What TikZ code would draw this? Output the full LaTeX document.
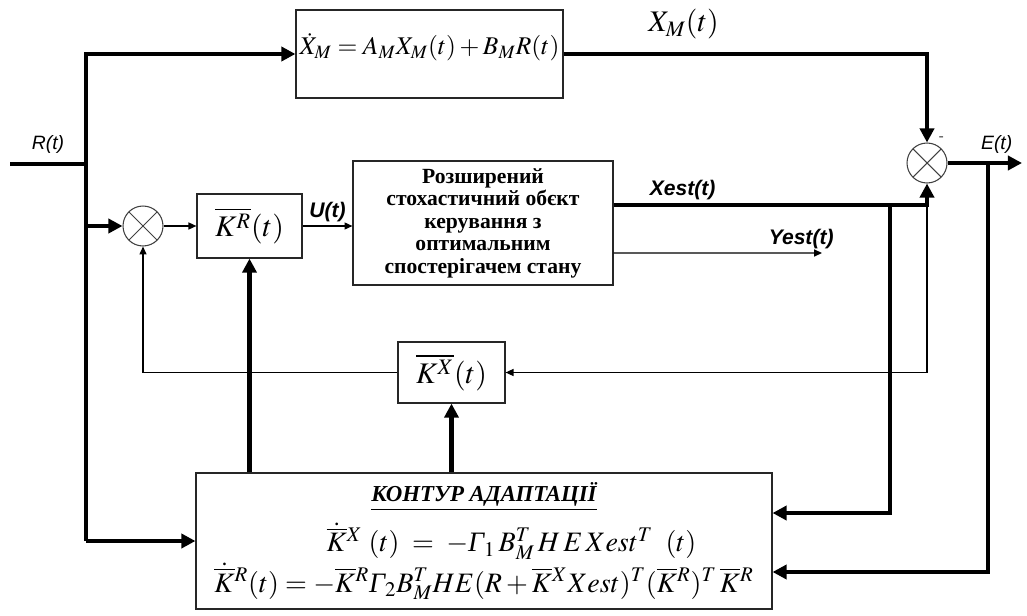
\documentclass[tikz,border=0pt]{standalone}
\usepackage{mathptmx}
\usepackage{fontspec}
\setmainfont{Liberation Serif}
\setsansfont{Liberation Sans}
\usetikzlibrary{arrows.meta, calc}

\newcommand{\Gm}{\mbox{\itshape Γ}}

\begin{document}
\begin{tikzpicture}[x=0.02cm, y=-0.02cm,
  blk/.style={rectangle,draw=black!85,line width=0.7pt,inner sep=0pt,align=center},
  summ/.style={circle,draw=black!75,line width=0.6pt,minimum size=0.8cm,inner sep=0pt,
    path picture={\draw[black!75,line width=0.6pt] (path picture bounding box.north west) -- (path picture bounding box.south east) (path picture bounding box.north east) -- (path picture bounding box.south west);}},
  bus/.style={line width=2.4pt},
  busarr/.style={line width=2.4pt,-{Triangle[length=8pt,width=8pt]}},
  sig/.style={line width=0.7pt,-{Triangle[length=4.5pt,width=4pt]}},
  lbl/.style={font=\sffamily\itshape\bfseries\fontsize{12}{14}\selectfont,inner sep=1pt},
  lblr/.style={font=\sffamily\itshape\fontsize{11}{13}\selectfont,inner sep=1pt},
  mns/.style={font=\sffamily\fontsize{9}{10}\selectfont,text=black!70,inner sep=0pt}
]
  \useasboundingbox (0,0) rectangle (1027,615);
  \node[blk,minimum width=5.34cm,minimum height=1.76cm,text height=11pt,text depth=10pt,font=\fontsize{14.5}{17}\selectfont](model) at (429.5,54) {$\dot{X}_M = A_M X_M(t) + B_M R(t)$};
  \node[summ](sumL) at (143,226) {};
  \node[summ,label={[mns,label distance=2pt]62:-}](sumR) at (927,163) {};
  \node[blk,minimum width=2.1cm,minimum height=1.28cm,font=\fontsize{17}{20}\selectfont](kr) at (249.5,226) {$\overline{K^R}(t)$};
  \node[blk,minimum width=5.2cm,minimum height=2.48cm,font=\bfseries\fontsize{12.3}{12.8}\selectfont](plant) at (483,223) {
    Розширений\\
    стохастичний обєкт\\
    керування з\\
    оптимальним\\
    спостерігачем стану
  };
  \node[blk,minimum width=2.14cm,minimum height=1.22cm,font=\fontsize{17}{20}\selectfont](kx) at (451.5,372.5) {$\overline{K^X}(t)$};
  \node[blk,minimum width=11.52cm,minimum height=2.72cm,font=\fontsize{16}{18}\selectfont](adapt) at (484,541) {
    {\bfseries\itshape\fontsize{13}{15}\selectfont\underline{КОНТУР АДАПТАЦІЇ}}\\[6pt]
    \hspace*{1.1cm}$\dot{\overline{K}}{}^X\;(t) \;=\; -\Gm_1\,B_M^T\,H\,E\,Xest^T\;\;(t)$\\[1pt]
    $\dot{\overline{K}}{}^R(t) = -\overline{K}{}^R\Gm_2 B_M^T HE(R+\overline{K}{}^X Xest)^T(\overline{K}{}^R)^T\,\overline{K}{}^R$
  };
  \coordinate(rin) at (10,164);
  \coordinate(jr) at (86,164);
  \coordinate(jx) at (890,205);
  \coordinate(yend) at (822,253);
  \coordinate(je) at (988,163);
  \coordinate(eout) at (1022,163);
  \draw[bus](rin) -- node[lblr,above=4pt]{R(t)} (jr);
  \draw[busarr](jr |- adapt.west) |- (model.west);
  \draw[busarr](jr |- sumL.west) -- (sumL.west);
  \draw[busarr](jr |- adapt.west) -- (adapt.west);
  \draw[sig](sumL.east) -- (kr.west);
  \draw[sig](kr.east) -- node[lbl,above=1pt]{U(t)} (kr.east -| plant.west);
  \draw[busarr](model.east) -| node[pos=0.165,above=4pt,font=\fontsize{17}{20}\selectfont]{$X_M(t)$} (sumR.north);
  \draw[busarr]([yshift=0.36cm]plant.east) -| node[lbl,pos=0.11,above=1pt]{Xest(t)} (sumR.south);
  \draw[sig]([yshift=-0.6cm]plant.east) -- node[lbl,pos=0.9,above=1pt]{Yest(t)} (yend);
  \draw[busarr](sumR.east) -- node[lblr,pos=0.66,above=3pt]{E(t)} (eout);
  \draw[busarr](jx) |- ([yshift=0.56cm]adapt.east);
  \draw[busarr](je) |- ([yshift=-0.62cm]adapt.east);
  \draw[sig](sumR.south |- jx) |- (kx.east);
  \draw[sig](kx.west) -| (sumL.south);
  \draw[busarr](adapt.north -| kr.south) -- (kr.south);
  \draw[busarr](adapt.north -| kx.south) -- (kx.south);
\end{tikzpicture}
\end{document}
